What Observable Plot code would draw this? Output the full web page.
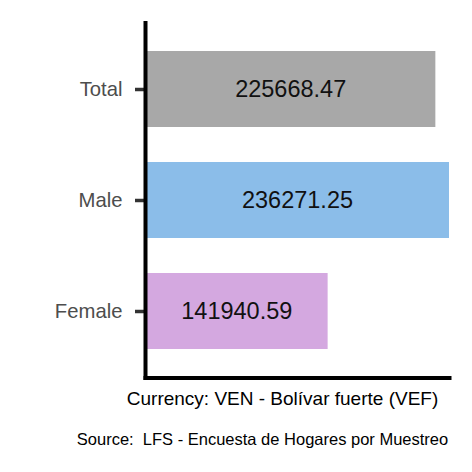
<!DOCTYPE html>
<html>
<head>
<meta charset="utf-8">
<script src="https://cdn.jsdelivr.net/npm/d3@7"></script>
<script src="https://cdn.jsdelivr.net/npm/@observablehq/plot@0.6"></script>
<style>
  body { margin: 0; background: #fff; }
  #chart svg { font-family: "Liberation Sans", Arial, sans-serif; }
</style>
</head>
<body>
<div id="chart"></div>
<script>
const categories = ["Total", "Male", "Female"];
const values = [225668.47, 236271.25, 141940.59];
const barColors = ["#a8a8a8", "#8bbde9", "#d4a8e0"];
const xTitle = "Currency: VEN - Bolívar fuerte (VEF)";
const sourceText = "Source:  LFS - Encuesta de Hogares por Muestreo";

const data = categories.map((c, i) => ({category: c, value: values[i]}));

const chart = Plot.plot({
  width: 472,
  height: 472,
  marginLeft: 145,
  marginRight: 23,
  marginTop: 22.4,
  marginBottom: 94.4,
  style: {fontFamily: "Liberation Sans, Arial, sans-serif", background: "#fff"},
  x: {domain: [0, d3.max(values)], axis: null},
  y: {domain: categories, padding: 0.315, paddingOuter: 0.2575, axis: null},
  color: {domain: categories, range: barColors},
  marks: [
    Plot.barX(data, {x: "value", y: "category", fill: "category"}),
    Plot.text(data, {
      x: d => d.value / 2, y: "category",
      text: d => d.value.toFixed(2),
      fontSize: 23.5, fill: "#111"
    }),
    Plot.axisY({
      tickSize: 10, tickPadding: 13, strokeWidth: 3.5,
      stroke: "#333", fill: "#4d4d4d", fontSize: 20.3, label: null
    }),
    Plot.frame({anchor: "left", stroke: "#000", strokeWidth: 4}),
    Plot.frame({anchor: "bottom", stroke: "#000", strokeWidth: 4}),
    Plot.text([xTitle], {
      frameAnchor: "bottom", text: d => d, dy: 21, dx: -15,
      lineAnchor: "middle", fontSize: 19, fill: "#000"
    }),
    Plot.text([sourceText], {
      frameAnchor: "bottom", text: d => d, dy: 62, dx: -35,
      lineAnchor: "middle", fontSize: 16.5, fill: "#000",
      style: "white-space: pre"
    })
  ]
});
document.getElementById("chart").appendChild(chart);
</script>
</body>
</html>
